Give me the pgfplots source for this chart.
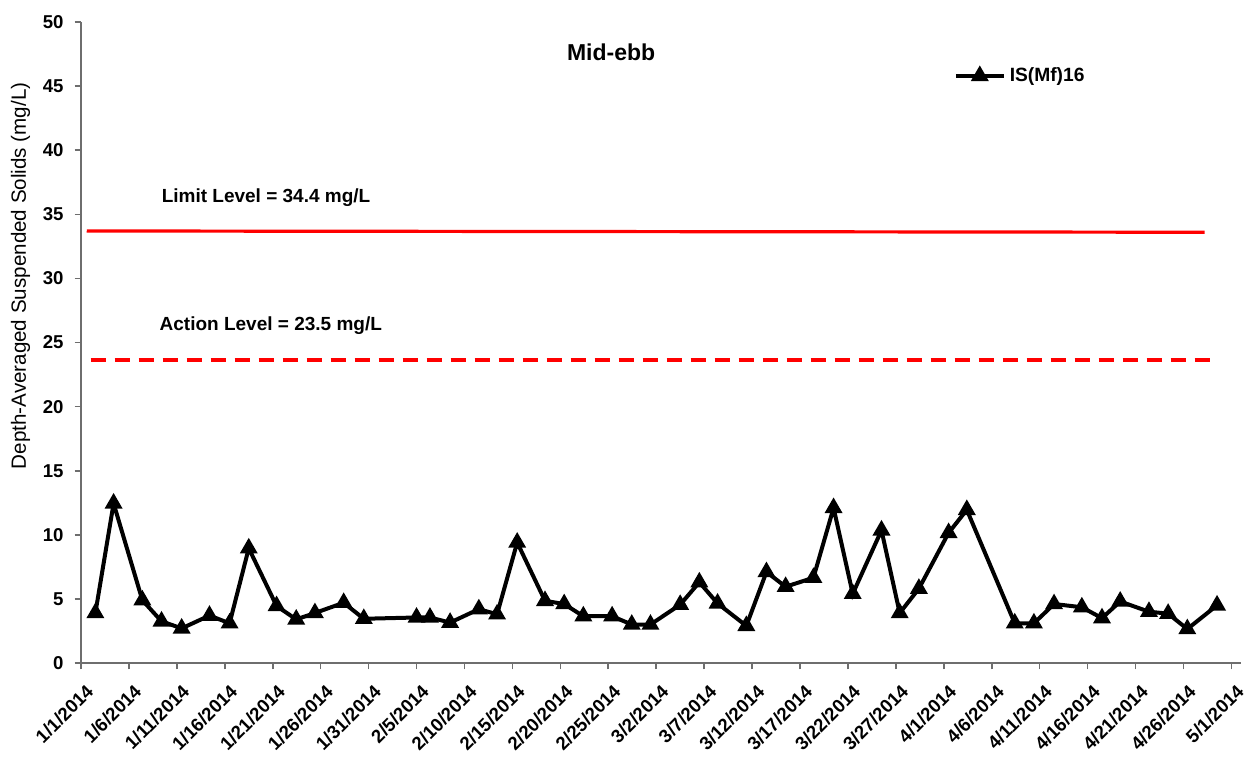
\documentclass[border=0pt]{standalone}
\usepackage{pgfplots}
\pgfplotsset{compat=1.18}
\usepackage{fontspec}
\setmainfont{Liberation Sans}
\definecolor{axisgray}{RGB}{110,110,110}
\begin{document}
\begin{tikzpicture}
\useasboundingbox (-40.5pt,-49pt) rectangle (587pt,331.5pt);
\begin{axis}[
  scale only axis,
  width=580pt, height=320.5pt,
  xmin=0, xmax=121, ymin=0, ymax=50,
  axis lines=left,
  axis line style={axisgray, line width=0.8pt, -},
  tick style={axisgray, line width=0.8pt},
  tick align=outside,
  major tick length=3.2pt,
  ytick={0,5,...,50},
  xtick={0,5,...,120},
  xticklabels={1/1/2014,1/6/2014,1/11/2014,1/16/2014,1/21/2014,1/26/2014,1/31/2014,2/5/2014,2/10/2014,2/15/2014,2/20/2014,2/25/2014,3/2/2014,3/7/2014,3/12/2014,3/17/2014,3/22/2014,3/27/2014,4/1/2014,4/6/2014,4/11/2014,4/16/2014,4/21/2014,4/26/2014,5/1/2014},
  /pgf/number format/assume math mode=true,
  yticklabel style={font=\fontsize{9.3}{10}\selectfont\bfseries, xshift=-2pt},
  xticklabel style={font=\fontsize{9.3}{10}\selectfont\bfseries, xshift=2pt, yshift=-2pt, rotate=45, anchor=north east},
  ylabel={Depth-Averaged Suspended Solids (mg/L)},
  every axis y label/.style={at={(axis description cs:-0.0522,0.604)}, rotate=90, anchor=center, font=\fontsize{10.3}{11}\selectfont},
  clip=false,
  legend style={at={(axis cs:91.0,45.8)}, anchor=west, draw=none, fill=none, inner sep=0pt, font=\fontsize{9.6}{10}\selectfont\bfseries},
  legend image code/.code={\draw[mark repeat=2,mark phase=2,#1] plot coordinates {(0pt,0pt) (12pt,0pt) (24pt,0pt)};},
]
\addplot[red, line width=1.6pt, forget plot] coordinates {(0.6,33.7) (117.2,33.6)};
\addplot[red, line width=1.6pt, dash pattern=on 7.5pt off 4.5pt, forget plot] coordinates {(1.0,23.63) (118.1,23.63)};
\addplot[black, line width=2pt, mark=triangle*, mark size=3.2pt, mark options={solid}] coordinates {
(1.5,3.9) (3.4,12.45) (6.4,4.9) (8.4,3.25) (10.5,2.7) (13.4,3.7) (15.5,3.1) (17.5,8.95)
(20.4,4.45) (22.45,3.4) (24.4,3.9) (27.4,4.7) (29.5,3.45) (35.0,3.55) (36.4,3.55) (38.5,3.15)
(41.5,4.2) (43.4,3.8) (45.5,9.4) (48.4,4.85) (50.4,4.6) (52.4,3.65) (55.4,3.65) (57.45,3.0)
(59.4,3.0) (62.5,4.55) (64.5,6.3) (66.4,4.65) (69.4,2.9) (71.5,7.1) (73.5,5.95) (76.4,6.65)
(78.5,12.1) (80.5,5.4) (83.5,10.35) (85.4,3.9) (87.4,5.8) (90.5,10.15) (92.4,11.95) (97.4,3.1)
(99.4,3.1) (101.5,4.6) (104.4,4.35) (106.5,3.5) (108.4,4.8) (111.4,4.0) (113.4,3.85) (115.4,2.65)
(118.5,4.5)};
\addlegendentry{IS(Mf)16}
\node[font=\fontsize{11.5}{12}\selectfont\bfseries] at (axis cs:55.3,47.6) {Mid-ebb};
\node[font=\fontsize{9.5}{10}\selectfont\bfseries] at (axis cs:19.3,36.3) {Limit Level = 34.4 mg/L};
\node[font=\fontsize{9.5}{10}\selectfont\bfseries] at (axis cs:19.8,26.3) {Action Level = 23.5 mg/L};
\end{axis}
\end{tikzpicture}
\end{document}
